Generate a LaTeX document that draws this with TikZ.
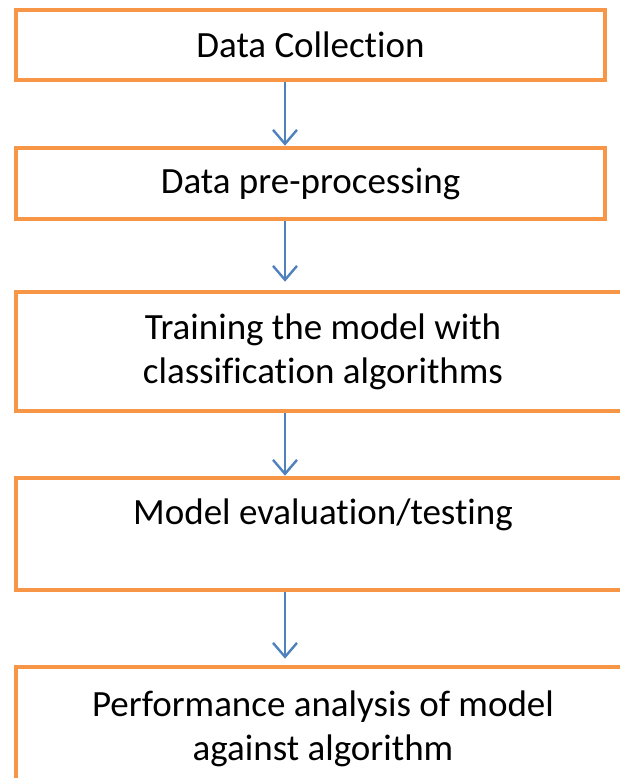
\documentclass[tikz,border=0pt]{standalone}
\usepackage{fontspec}
\setmainfont{Carlito}[Ligatures=NoCommon]
\usetikzlibrary{arrows.meta, positioning}
\definecolor{boxorange}{HTML}{F79646}
\definecolor{flowblue}{HTML}{4F81BD}
\tikzset{
  stage/.style={draw=boxorange, line width=2.3pt, fill=white, inner sep=0pt, align=center, font=\fontsize{18.5}{22}\selectfont},
  wide/.style={stage, minimum width=307pt},
  flow/.style={draw=flowblue, line width=1.2pt, -{Straight Barb[length=7pt, width=12pt, line width=1.2pt]}}
}
\begin{document}
\begin{tikzpicture}[x=0.5pt, y=-0.5pt]
		\useasboundingbox (0,0) rectangle (620,778);
		\node[stage, minimum width=294.5pt, minimum height=35pt] (dc) at (310.5,45) {Data Collection};
		\node[stage, minimum width=294.5pt, minimum height=35.5pt] (pp) at (310.5,183.5) {Data pre-processing};
		\node[wide, minimum height=59.5pt] (tr) at (323,351.5) {Training the model with\\classification algorithms};
		\node[wide, minimum height=56pt] (ev) at (323,534) {Model evaluation/testing\\~};
		\node[wide, minimum height=61.5pt] (pa) at (323,728.5) {Performance analysis of model\\against algorithm};
		\coordinate (ax) at (285,0);
		\draw[flow] (dc.south -| ax) -- (pp.north -| ax);
		\draw[flow, shorten >=4pt] (pp.south -| ax) -- (tr.north -| ax);
		\draw[flow] (tr.south -| ax) -- (ev.north -| ax);
		\draw[flow, shorten >=3pt] (ev.south -| ax) -- (pa.north -| ax);
	\end{tikzpicture}
\end{document}
